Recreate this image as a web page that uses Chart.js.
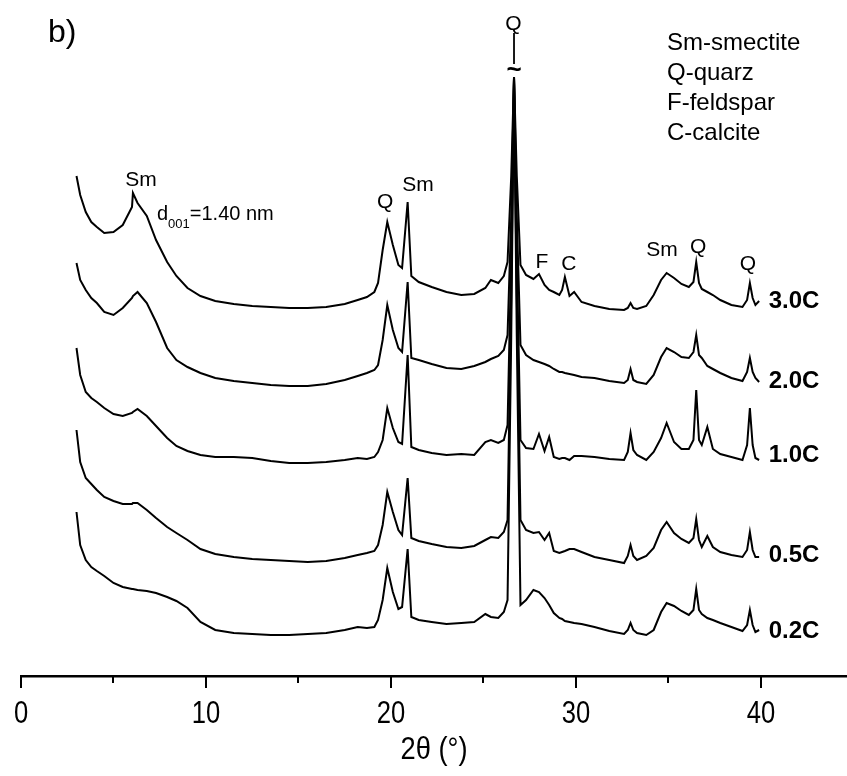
<!DOCTYPE html>
<html>
<head>
<meta charset="utf-8">
<title>XRD patterns</title>
<script src="https://cdn.jsdelivr.net/npm/chart.js@4.4.0/dist/chart.umd.min.js"></script>
<style>
  html, body { margin: 0; padding: 0; background: #fff; }
  #wrap { width: 847px; height: 776px; position: relative; }
</style>
</head>
<body>
<div id="wrap"><canvas id="xrd"></canvas></div>
<script>
// 2θ positions (degrees) shared by every pattern
const twoTheta = [3.0, 3.2, 3.5, 3.8, 4.1, 4.5, 5.0, 5.5, 6.0, 6.05, 6.3, 6.8, 7.3, 7.9, 8.4, 9.0, 9.7, 10.5, 11.5, 12.5,
  13.5, 14.5, 15.5, 16.5, 17.5, 18.2, 18.7, 19.1, 19.3, 19.55, 19.8, 20.1, 20.4, 20.6, 20.9, 21.1, 21.5, 22.2, 23.0, 23.8,
  24.5, 25.1, 25.4, 25.8, 26.1, 26.3, 26.5, 26.65, 26.8, 27.0, 27.3, 27.7, 28.0, 28.3, 28.55, 28.8, 29.1, 29.25, 29.4, 29.65,
  29.9, 30.3, 31.0, 31.8, 32.6, 32.8, 32.95, 33.1, 33.3, 33.8, 34.2, 34.6, 34.9, 35.3, 35.7, 36.1, 36.35, 36.5, 36.65, 36.8,
  37.1, 37.4, 37.8, 38.4, 39.0, 39.25, 39.4, 39.55, 39.7, 39.9];

// stacked intensities (a.u., offsets included), one list per charge rate
const c30 = [500, 481, 464, 454, 449, 443, 444, 451, 469, 483, 473, 460, 436, 414, 400, 388, 380, 375, 372, 370,
  369, 368, 368, 369, 372, 376, 379, 384, 393, 426, 454, 431, 411, 408, 474, 400, 394, 389, 384, 381,
  382, 388, 396, 393, 400, 414, 500, 599, 500, 411, 401, 397, 402, 391, 386, 384, 381, 386, 399, 380,
  384, 374, 370, 367, 366, 368, 373, 368, 367, 370, 381, 396, 403, 398, 392, 389, 394, 414, 393, 387,
  384, 381, 376, 371, 369, 376, 393, 378, 371, 375];
const c20 = [413, 396, 386, 378, 373, 364, 361, 368, 378, 380, 384, 373, 354, 328, 316, 309, 303, 298, 295, 293,
  291, 290, 290, 292, 296, 300, 303, 306, 311, 336, 371, 346, 328, 324, 394, 318, 316, 312, 308, 307,
  310, 314, 317, 320, 326, 341, 460, 599, 460, 331, 321, 316, 314, 312, 310, 307, 304, 304, 303, 302,
  301, 299, 298, 295, 293, 296, 307, 296, 294, 292, 301, 319, 328, 324, 319, 318, 324, 341, 321, 318,
  310, 307, 303, 298, 295, 304, 318, 304, 298, 294];
const c10 = [328, 301, 284, 278, 274, 268, 262, 260, 263, 264, 267, 260, 250, 238, 230, 225, 221, 219, 219, 218,
  215, 213, 213, 214, 216, 218, 217, 219, 224, 236, 268, 248, 234, 232, 321, 229, 226, 223, 221, 222,
  221, 234, 236, 233, 236, 251, 420, 599, 420, 236, 228, 227, 242, 225, 239, 219, 217, 218, 218, 216,
  220, 220, 219, 217, 216, 224, 243, 226, 221, 216, 224, 238, 253, 234, 227, 227, 236, 286, 236, 231,
  249, 227, 222, 219, 216, 231, 268, 231, 218, 216];
const c05 = [246, 214, 198, 192, 186, 179, 175, 172, 172, 173, 173, 166, 158, 149, 143, 136, 127, 122, 119, 117,
  116, 115, 114, 115, 118, 121, 123, 125, 131, 151, 184, 164, 146, 141, 198, 138, 135, 132, 129, 128,
  130, 136, 139, 138, 144, 156, 380, 599, 380, 156, 146, 143, 144, 136, 143, 125, 123, 124, 125, 127,
  127, 124, 119, 116, 113, 120, 131, 120, 116, 120, 128, 146, 154, 143, 137, 133, 138, 157, 136, 129,
  140, 129, 124, 121, 119, 126, 144, 126, 119, 119];
const c02 = [164, 131, 116, 109, 105, 100, 93, 89, 87, 87, 86, 85, 83, 79, 75, 68, 54, 46, 43, 42,
  41, 41, 42, 43, 46, 49, 48, 49, 56, 76, 108, 84, 67, 69, 127, 59, 56, 54, 52, 53,
  54, 62, 59, 58, 64, 76, 340, 599, 340, 71, 76, 86, 84, 78, 71, 63, 58, 57, 55, 54,
  53, 52, 49, 45, 42, 46, 53, 46, 43, 41, 46, 64, 73, 70, 65, 61, 66, 87, 66, 62,
  58, 56, 53, 49, 45, 51, 66, 51, 44, 46];

const sampleNames = ['3.0C', '2.0C', '1.0C', '0.5C', '0.2C'];
const patterns = [c30, c20, c10, c05, c02];
const tickValues = [0, 5, 10, 15, 20, 25, 30, 35, 40, 45];

// where the phase letters and sample names sit (2θ, intensity)
const peakMarks = [
  { text: 'Sm', at: 6.49, h: 490 },
  { text: 'Q', at: 19.68, h: 468 },
  { text: 'Sm', at: 21.46, h: 485 },
  { text: 'F', at: 28.16, h: 408 },
  { text: 'C', at: 29.62, h: 406 },
  { text: 'Sm', at: 34.65, h: 420 },
  { text: 'Q', at: 36.6, h: 423 },
  { text: 'Q', at: 39.3, h: 406 },
  { text: 'Q', at: 26.62, h: 646 }
];
const nameAt = 40.42;
const nameLevels = [368, 288, 214, 114, 38];
const legendLines = ['Sm-smectite', 'Q-quarz', 'F-feldspar', 'C-calcite'];

const FONT = '"Liberation Sans", Arial, sans-serif';

// draws text squeezed horizontally, like a narrow face
function narrowText(ctx, text, px, py, squeeze) {
  ctx.save();
  ctx.translate(px, py);
  ctx.scale(squeeze, 1);
  ctx.fillText(text, 0, 0);
  ctx.restore();
}

const annotate = {
  id: 'annotate',
  afterDraw(chart) {
    const { ctx, chartArea } = chart;
    const x = chart.scales.x, y = chart.scales.y;
    ctx.save();
    ctx.fillStyle = '#000';
    ctx.strokeStyle = '#000';

    // major and minor tick marks below the axis, with labels
    const axisY = chartArea.bottom;
    ctx.font = '32px ' + FONT;
    ctx.textAlign = 'center';
    ctx.textBaseline = 'middle';
    tickValues.forEach(v => {
      if (v > x.max) return;
      const px = Math.round(x.getPixelForValue(v));
      const major = v % 10 === 0;
      ctx.lineWidth = 2;
      ctx.beginPath();
      ctx.moveTo(px, axisY);
      ctx.lineTo(px, axisY + (major ? 12 : 7));
      ctx.stroke();
      if (major) narrowText(ctx, String(v), px, axisY + 38, 0.8);
    });
    ctx.font = '31px ' + FONT;
    narrowText(ctx, '2θ (°)', (chartArea.left + chartArea.right) / 2, axisY + 74, 0.88);

    // phase letters over the peaks
    ctx.font = '21px ' + FONT;
    ctx.textAlign = 'center';
    ctx.textBaseline = 'alphabetic';
    peakMarks.forEach(m => ctx.fillText(m.text, x.getPixelForValue(m.at), y.getPixelForValue(m.h)));

    // leader and break mark on the clipped quartz reflection
    const qx = x.getPixelForValue(26.65);
    ctx.lineWidth = 1.8;
    ctx.beginPath();
    ctx.moveTo(qx, y.getPixelForValue(643));
    ctx.lineTo(qx, y.getPixelForValue(612));
    ctx.stroke();
    ctx.font = 'bold 26px ' + FONT;
    ctx.textBaseline = 'middle';
    ctx.fillText('~', qx, y.getPixelForValue(605));

    // basal spacing note
    let tx = x.getPixelForValue(7.35);
    const ty = y.getPixelForValue(456);
    ctx.textAlign = 'left';
    ctx.textBaseline = 'alphabetic';
    ctx.font = '20px ' + FONT;
    ctx.fillText('d', tx, ty);
    tx += ctx.measureText('d').width;
    ctx.font = '13px ' + FONT;
    ctx.fillText('001', tx, ty + 8);
    tx += ctx.measureText('001').width;
    ctx.font = '20px ' + FONT;
    ctx.fillText('=1.40 nm', tx, ty);

    // sample names at the right end of each pattern
    ctx.font = 'bold 24px ' + FONT;
    sampleNames.forEach((s, i) => ctx.fillText(s, x.getPixelForValue(nameAt), y.getPixelForValue(nameLevels[i])));

    // panel letter and phase key
    ctx.font = '32px ' + FONT;
    ctx.fillText('b)', 48, 42);
    ctx.font = '24px ' + FONT;
    legendLines.forEach((s, i) => ctx.fillText(s, 667, 50 + 30 * i));
    ctx.restore();
  }
};

new Chart(document.getElementById('xrd'), {
  type: 'line',
  data: {
    datasets: patterns.map((vals, i) => ({
      label: sampleNames[i],
      data: twoTheta.map((t, k) => ({ x: t, y: vals[k] })),
      borderColor: '#000',
      borderWidth: 2,
      pointRadius: 0,
      tension: 0,
      fill: false
    }))
  },
  options: {
    responsive: true,
    maintainAspectRatio: false,
    animation: false,
    layout: { padding: { left: 21, right: 0, top: 0, bottom: 0 } },
    plugins: { legend: { display: false }, tooltip: { enabled: false } },
    scales: {
      x: {
        type: 'linear',
        min: 0,
        max: 44.65,
        grid: { display: false, drawTicks: false },
        border: { display: true, color: '#000', width: 2.5 },
        ticks: { display: false },
        afterBuildTicks(scale) { scale.ticks = tickValues.filter(v => v <= 44.65).map(v => ({ value: v })); },
        afterFit(scale) { scale.height = 100; }
      },
      y: { display: false, min: 0, max: 676 }
    }
  },
  plugins: [annotate]
});
</script>
</body>
</html>
